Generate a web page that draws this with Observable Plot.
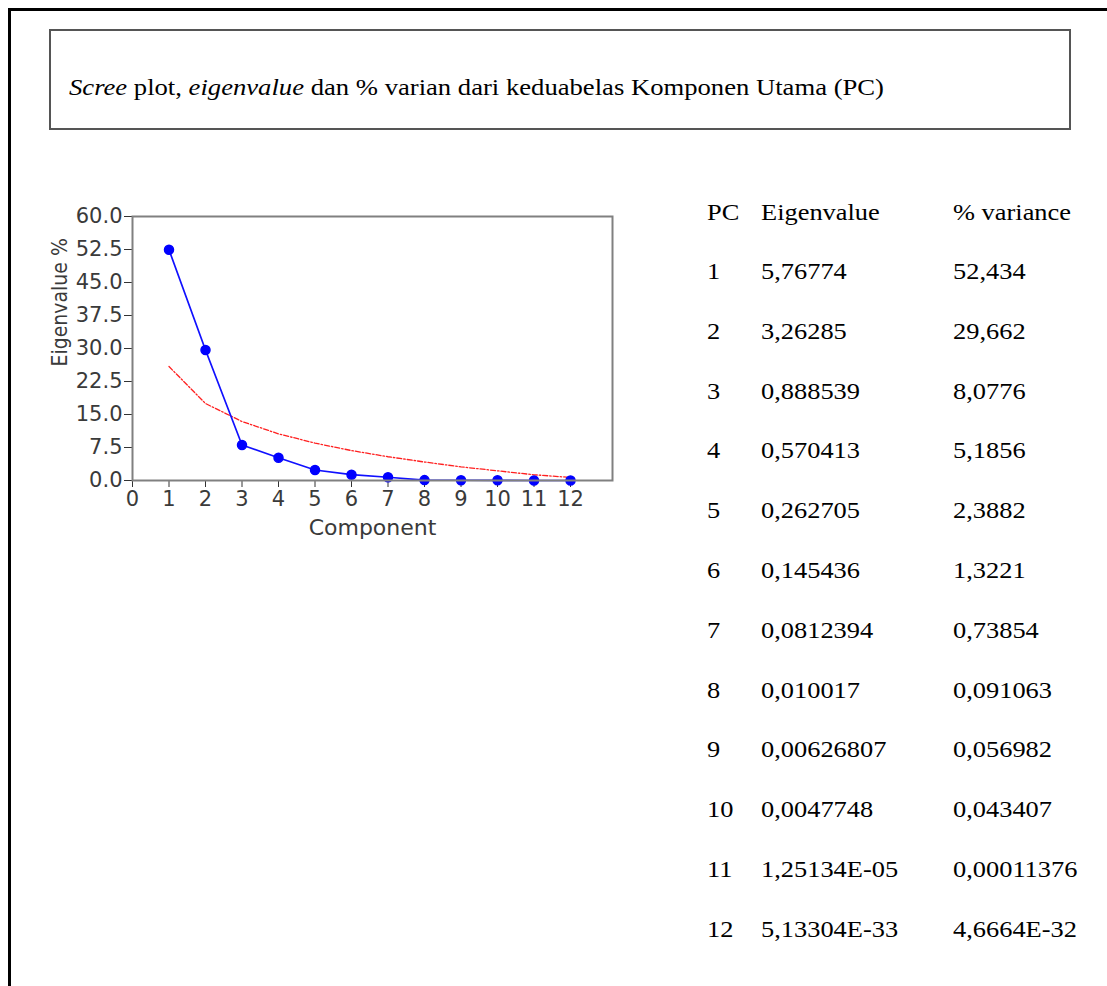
<!DOCTYPE html>
<html>
<head>
<meta charset="utf-8">
<script src="https://cdn.jsdelivr.net/npm/d3@7"></script>
<script src="https://cdn.jsdelivr.net/npm/@observablehq/plot@0.6"></script>
<style>
  html, body { margin: 0; padding: 0; background: #fff; }
  body { width: 1107px; height: 986px; position: relative; overflow: hidden; }
  .outer-top { position: absolute; left: 8px; top: 8px; width: 1099px; height: 3px; background: #000; }
  .outer-left { position: absolute; left: 8px; top: 8px; width: 3px; height: 978px; background: #000; }
  .title-box { position: absolute; left: 49px; top: 29px; width: 1018px; height: 97px; border: 2px solid #555; box-sizing: content-box; }
  .title { position: absolute; left: 69px; top: 74px; font-family: "Liberation Serif", "Times New Roman", serif; font-size: 24px; color: #000; white-space: nowrap; transform: scaleX(1.11); transform-origin: left center; }
  #chart { position: absolute; left: 40px; top: 195px; }
  .cell { position: absolute; font-family: "Liberation Serif", "Times New Roman", serif; font-size: 24px; color: #000; white-space: nowrap; line-height: 1; transform: scaleX(1.1); transform-origin: left center; }
</style>
</head>
<body>
<div class="outer-top"></div>
<div class="outer-left"></div>
<div class="title-box"></div>
<div class="title"><i>Scree</i> plot, <i>eigenvalue</i> dan % varian dari keduabelas Komponen Utama (PC)</div>
<div id="chart"></div>
<div id="table"></div>
<script>
// ---- data ----
const components = [1, 2, 3, 4, 5, 6, 7, 8, 9, 10, 11, 12];
const percentVariance = [52.434, 29.662, 8.0776, 5.1856, 2.3882, 1.3221, 0.73854, 0.091063, 0.056982, 0.043407, 0.00011376, 4.6664e-32];
const brokenStick = [25.9, 17.5, 13.4, 10.6, 8.5, 6.8, 5.4, 4.2, 3.1, 2.2, 1.3, 0.7];
const xTicks = [0, 1, 2, 3, 4, 5, 6, 7, 8, 9, 10, 11, 12];
const yTicks = [0, 7.5, 15, 22.5, 30, 37.5, 45, 52.5, 60];

const tableHeader = ["PC", "Eigenvalue", "% variance"];
const tablePC = ["1", "2", "3", "4", "5", "6", "7", "8", "9", "10", "11", "12"];
const tableEigen = ["5,76774", "3,26285", "0,888539", "0,570413", "0,262705", "0,145436", "0,0812394", "0,010017", "0,00626807", "0,0047748", "1,25134E-05", "5,13304E-33"];
const tableVar = ["52,434", "29,662", "8,0776", "5,1856", "2,3882", "1,3221", "0,73854", "0,091063", "0,056982", "0,043407", "0,00011376", "4,6664E-32"];

const scree = components.map((c, i) => ({component: c, value: percentVariance[i]}));
const stick = components.map((c, i) => ({component: c, value: brokenStick[i]}));

const chart = Plot.plot({
  width: 590,
  height: 355,
  marginLeft: 92,
  marginTop: 21,
  marginRight: 18,
  marginBottom: 70,
  style: {fontFamily: "DejaVu Sans, sans-serif", fontSize: "22px", color: "#3a3a3a", background: "#fff"},
  x: {domain: [0, 13.15]},
  y: {domain: [0, 60]},
  marks: [
    Plot.axisY({ticks: yTicks, tickFormat: d3.format(".1f"), tickSize: 8, tickPadding: 2, label: null, stroke: "#333", fontSize: 21}),
    Plot.axisX({ticks: xTicks, tickFormat: d3.format("d"), tickSize: 7, tickPadding: 4, label: null, stroke: "#333", fontSize: 21}),
    Plot.line(stick, {x: "component", y: "value", stroke: "#ff2020", strokeWidth: 1.3, strokeDasharray: "5,2,1.5,2"}),
    Plot.line(scree, {x: "component", y: "value", stroke: "#1010ff", strokeWidth: 1.7}),
    Plot.dot(scree, {x: "component", y: "value", fill: "#0000ff", stroke: "#0000ff", r: 4.5}),
    Plot.frame({stroke: "#808080", strokeWidth: 2}),
    Plot.text(["Eigenvalue %"], {frameAnchor: "left", dx: -72, dy: 18, rotate: -90, fontFamily: "DejaVu Sans Condensed, DejaVu Sans, sans-serif", fontSize: 21, fill: "#3a3a3a", lineAnchor: "middle"}),
    Plot.text(["Component"], {frameAnchor: "bottom", dy: 47, fontSize: 22, fill: "#3a3a3a", lineAnchor: "middle"})
  ]
});
document.getElementById("chart").appendChild(chart);

// ---- table ----
const table = d3.select("#table");
const colX = [707, 761, 953];
const headerTop = 200;
const rowTop0 = 259;
const rowStep = 59.8;
tableHeader.forEach((h, j) => {
  table.append("div").attr("class", "cell").style("left", colX[j] + "px").style("top", headerTop + "px").text(h);
});
tablePC.forEach((pc, i) => {
  const top = rowTop0 + i * rowStep;
  [pc, tableEigen[i], tableVar[i]].forEach((t, j) => {
    table.append("div").attr("class", "cell").style("left", colX[j] + "px").style("top", top + "px").text(t);
  });
});
</script>
</body>
</html>
